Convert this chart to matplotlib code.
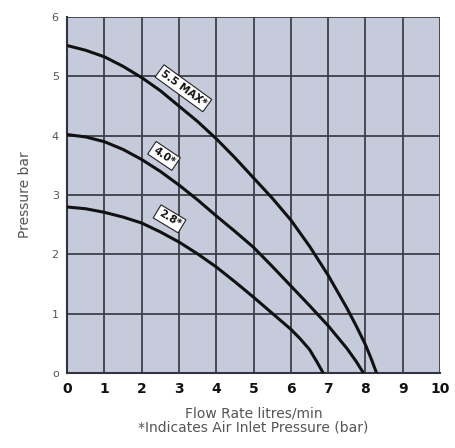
import matplotlib.pyplot as plt

# Pump curves (flow l/min vs pressure bar)
flow_55 = [0, 0.5, 1, 1.5, 2, 2.5, 3, 3.5, 4, 4.5, 5, 5.5, 6, 6.5, 7, 7.5, 7.75, 8, 8.15, 8.3]
pres_55 = [5.52, 5.44, 5.33, 5.17, 4.98, 4.76, 4.5, 4.24, 3.95, 3.63, 3.29, 2.95, 2.58, 2.14, 1.65, 1.1, 0.8, 0.48, 0.25, 0.0]

flow_40 = [0, 0.5, 1, 1.5, 2, 2.5, 3, 3.5, 4, 4.5, 5, 5.5, 6, 6.5, 7, 7.5, 7.75, 7.95]
pres_40 = [4.02, 3.98, 3.9, 3.77, 3.6, 3.4, 3.17, 2.92, 2.65, 2.39, 2.12, 1.8, 1.47, 1.14, 0.8, 0.42, 0.2, 0.0]

flow_28 = [0, 0.5, 1, 1.5, 2, 2.5, 3, 3.5, 4, 4.5, 5, 5.5, 6, 6.25, 6.5, 6.7, 6.87]
pres_28 = [2.8, 2.77, 2.71, 2.63, 2.53, 2.38, 2.21, 2.01, 1.79, 1.54, 1.28, 1.01, 0.74, 0.58, 0.4, 0.19, 0.0]

curve_labels = ['5.5 MAX*', '4.0*', '2.8*']
label_pos = [(3.12, 4.8), (2.6, 3.66), (2.75, 2.6)]
label_rot = [-36, -34, -31]

x_ticks = list(range(0, 11))
y_ticks = list(range(0, 7))

fig = plt.figure(figsize=(4.56, 4.48), dpi=100)
ax = fig.add_axes([0.147, 0.167, 0.818, 0.795])
ax.set_facecolor('#c6cbdc')

for fx, py in [(flow_55, pres_55), (flow_40, pres_40), (flow_28, pres_28)]:
    ax.plot(fx, py, color='#111111', linewidth=2.2, solid_capstyle='round',
            solid_joinstyle='round', zorder=3)

for txt, (lx, ly), rot in zip(curve_labels, label_pos, label_rot):
    ax.text(lx, ly, txt, rotation=rot, rotation_mode='anchor', ha='center', va='center',
            fontsize=7.5, fontweight='bold', color='#111111', zorder=4,
            bbox=dict(boxstyle='square,pad=0.25', facecolor='white', edgecolor='#222222', linewidth=0.8))

ax.set_xlim(0, 10)
ax.set_ylim(0, 6)
ax.set_xticks(x_ticks)
ax.set_yticks(y_ticks)
ax.set_xticklabels([str(v) for v in x_ticks], fontsize=10, fontweight='bold', color='#111111')
ax.set_yticklabels(['o'] + [str(v) for v in y_ticks[1:]], fontsize=8, color='#555555')
ax.tick_params(length=0, pad=6)
ax.grid(True, color='#3f3f4a', linewidth=1.3, zorder=1)
ax.set_axisbelow(True)

for side in ['top', 'right']:
    ax.spines[side].set_visible(False)
for side in ['left', 'bottom']:
    ax.spines[side].set_color('#333340')
    ax.spines[side].set_linewidth(1.5)

ax.set_ylabel('Pressure bar', fontsize=10, color='#555555', labelpad=14,
              family=['Liberation Sans Narrow', 'DejaVu Sans'])
ax.set_xlabel('Flow Rate litres/min\n*Indicates Air Inlet Pressure (bar)', fontsize=10,
              color='#555555', labelpad=8, linespacing=1.0,
              family=['Liberation Sans Narrow', 'DejaVu Sans'])

plt.savefig('out.png', dpi=100)
